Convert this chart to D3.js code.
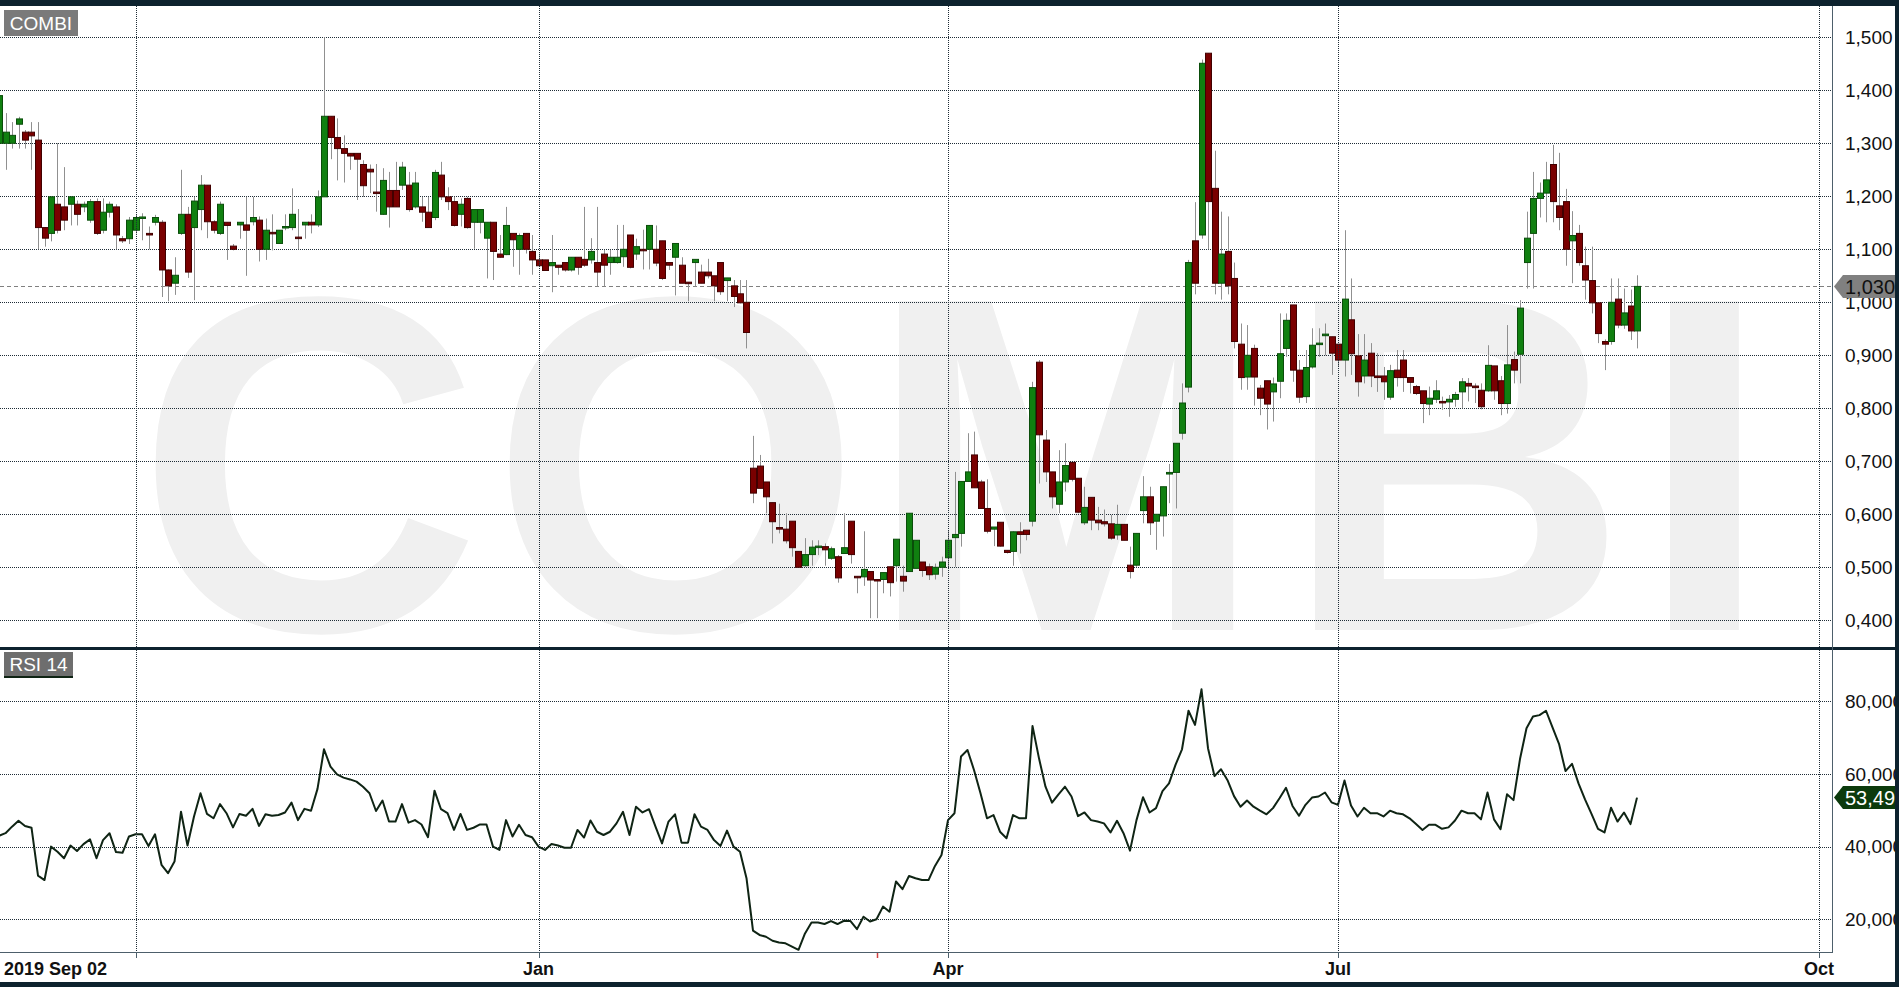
<!DOCTYPE html>
<html><head><meta charset="utf-8">
<script src="https://cdn.jsdelivr.net/npm/d3@7"></script>
<style>
html,body{margin:0;padding:0;background:#fff;overflow:hidden}
svg{display:block}
text{font-family:"Liberation Sans",Arial,Helvetica,sans-serif}
</style>
</head><body>
<svg id="c" width="1899" height="987"></svg>
<script>
// ---------- DATA ----------
const openP=[1.30,1.30,1.30,1.336,1.321,1.321,1.306,1.141,1.130,1.185,
1.18,1.185,1.185,1.18,1.155,1.19,1.136,1.17,1.18,1.12,
1.12,1.136,1.16,1.13,1.151,1.151,1.061,1.036,1.13,1.166,
1.141,1.175,1.221,1.152,1.13,1.151,1.106,1.146,1.146,1.152,
1.155,1.1,1.132,1.111,1.141,1.141,1.123,1.146,1.151,1.146,
1.199,1.351,1.311,1.29,1.281,1.281,1.26,1.251,1.208,1.166,
1.211,1.211,1.221,1.221,1.18,1.18,1.17,1.16,1.24,1.199,
1.19,1.166,1.196,1.151,1.151,1.121,1.151,1.091,1.09,1.13,
1.1,1.13,1.096,1.08,1.08,1.069,1.07,1.075,1.061,1.085,
1.081,1.08,1.075,1.091,1.075,1.075,1.086,1.127,1.091,1.1,
1.1,1.1,1.116,1.075,1.085,1.07,1.038,1.075,1.057,1.057,
1.05,1.075,1.041,1.031,1.016,1.0,0.687,0.691,0.661,0.622,
0.575,0.572,0.587,0.53,0.503,0.524,0.538,0.539,0.517,0.52,
0.526,0.587,0.483,0.482,0.492,0.477,0.477,0.501,0.503,0.483,
0.492,0.498,0.51,0.501,0.487,0.50,0.518,0.556,0.564,0.662,
0.712,0.661,0.611,0.572,0.585,0.532,0.53,0.567,0.57,0.587,
0.887,0.74,0.68,0.619,0.661,0.698,0.668,0.584,0.632,0.589,
0.586,0.582,0.561,0.581,0.504,0.504,0.607,0.633,0.587,0.597,
0.676,0.679,0.753,0.84,1.116,1.127,1.47,1.215,1.036,1.096,
1.045,0.921,0.859,0.913,0.838,0.852,0.831,0.851,0.913,0.995,
0.872,0.822,0.878,0.921,0.937,0.935,0.921,0.891,0.967,0.899,
0.861,0.904,0.861,0.861,0.821,0.872,0.891,0.858,0.841,0.833,
0.808,0.817,0.813,0.812,0.817,0.831,0.847,0.842,0.834,0.833,
0.88,0.852,0.809,0.892,0.902,1.075,1.13,1.196,1.206,1.26,
1.182,1.19,1.116,1.13,1.069,1.041,0.999,0.926,0.926,1.006,
0.957,0.993,0.946];
const highP=[1.40,1.357,1.34,1.35,1.325,1.34,1.34,1.142,1.199,1.30,
1.255,1.199,1.192,1.19,1.195,1.196,1.196,1.19,1.185,1.125,
1.161,1.165,1.168,1.143,1.165,1.155,1.062,1.085,1.25,1.18,
1.199,1.24,1.221,1.155,1.19,1.151,1.11,1.151,1.199,1.199,
1.162,1.158,1.166,1.136,1.166,1.215,1.176,1.151,1.166,1.211,
1.50,1.351,1.347,1.315,1.281,1.281,1.268,1.26,1.261,1.253,
1.246,1.265,1.265,1.246,1.246,1.199,1.199,1.25,1.265,1.217,
1.199,1.196,1.199,1.175,1.175,1.151,1.151,1.127,1.18,1.13,
1.13,1.13,1.127,1.092,1.08,1.127,1.07,1.075,1.085,1.085,
1.18,1.121,1.18,1.099,1.099,1.146,1.146,1.127,1.12,1.137,
1.145,1.145,1.116,1.075,1.111,1.085,1.038,1.081,1.071,1.082,
1.05,1.075,1.046,1.042,1.042,1.042,0.748,0.712,0.661,0.622,
0.62,0.602,0.587,0.53,0.555,0.551,0.551,0.545,0.539,0.523,
0.602,0.587,0.483,0.568,0.492,0.477,0.49,0.501,0.553,0.503,
0.602,0.551,0.51,0.507,0.507,0.52,0.57,0.68,0.662,0.753,
0.756,0.665,0.666,0.576,0.585,0.532,0.568,0.585,0.57,0.85,
0.891,0.759,0.68,0.721,0.734,0.698,0.668,0.652,0.632,0.614,
0.609,0.599,0.618,0.581,0.539,0.564,0.672,0.652,0.60,0.652,
0.695,0.734,0.847,1.08,1.189,1.458,1.47,1.286,1.171,1.162,
1.075,0.96,0.957,0.92,0.844,0.852,0.858,0.979,0.979,0.995,
0.891,0.91,0.951,0.951,0.96,0.935,0.921,1.136,1.045,0.94,
0.94,0.923,0.904,0.878,0.882,0.91,0.91,0.858,0.844,0.833,
0.841,0.853,0.822,0.825,0.831,0.857,0.857,0.847,0.847,0.919,
0.88,0.861,0.957,0.907,1.004,1.171,1.246,1.226,1.265,1.297,
1.282,1.214,1.172,1.146,1.105,1.105,1.0,0.93,1.045,1.045,
1.026,1.024,1.051];
const lowP=[1.25,1.25,1.29,1.29,1.29,1.25,1.10,1.105,1.115,1.13,
1.136,1.145,1.145,1.17,1.15,1.127,1.13,1.16,1.10,1.112,
1.11,1.13,1.117,1.10,1.145,1.01,1.002,1.014,1.127,1.046,
1.004,1.136,1.121,1.13,1.127,1.08,1.098,1.12,1.05,1.145,
1.077,1.08,1.098,1.111,1.136,1.136,1.10,1.12,1.13,1.142,
1.199,1.27,1.23,1.226,1.25,1.193,1.199,1.206,1.171,1.165,
1.141,1.18,1.212,1.171,1.177,1.152,1.141,1.155,1.193,1.174,
1.143,1.143,1.139,1.101,1.13,1.045,1.042,1.084,1.089,1.067,
1.052,1.092,1.052,1.067,1.06,1.019,1.052,1.058,1.058,1.052,
1.067,1.073,1.03,1.03,1.052,1.073,1.067,1.064,1.08,1.062,
1.062,1.068,1.042,1.061,1.013,1.036,1.002,1.03,1.036,1.045,
1.002,1.014,1.002,0.991,0.998,0.913,0.621,0.649,0.602,0.545,
0.564,0.545,0.52,0.50,0.501,0.503,0.523,0.503,0.514,0.471,
0.526,0.507,0.451,0.465,0.404,0.404,0.451,0.445,0.473,0.454,
0.492,0.498,0.482,0.476,0.477,0.482,0.501,0.501,0.539,0.662,
0.65,0.611,0.564,0.54,0.539,0.526,0.503,0.526,0.551,0.577,
0.658,0.661,0.611,0.602,0.643,0.662,0.602,0.58,0.57,0.57,
0.577,0.552,0.552,0.551,0.479,0.501,0.583,0.561,0.533,0.558,
0.621,0.611,0.741,0.83,1.015,1.12,1.10,1.015,1.005,1.015,
0.913,0.835,0.835,0.805,0.787,0.76,0.775,0.819,0.897,0.85,
0.81,0.81,0.875,0.897,0.90,0.863,0.878,0.86,0.863,0.822,
0.847,0.84,0.831,0.816,0.816,0.841,0.831,0.828,0.825,0.772,
0.787,0.81,0.797,0.784,0.803,0.8,0.813,0.81,0.798,0.831,
0.816,0.787,0.79,0.847,0.847,1.026,1.026,1.16,1.151,1.151,
1.136,1.069,1.036,1.069,1.005,0.979,0.923,0.872,0.92,0.951,
0.95,0.929,0.913];
const closeP=[1.39,1.321,1.315,1.346,1.306,1.314,1.141,1.121,1.199,1.136,
1.155,1.199,1.166,1.185,1.19,1.13,1.17,1.185,1.127,1.116,
1.155,1.16,1.161,1.127,1.16,1.061,1.031,1.051,1.166,1.057,
1.191,1.221,1.152,1.136,1.185,1.145,1.1,1.151,1.136,1.16,
1.1,1.136,1.13,1.136,1.143,1.166,1.121,1.151,1.146,1.199,
1.351,1.311,1.29,1.281,1.276,1.27,1.22,1.246,1.206,1.23,
1.18,1.18,1.255,1.175,1.225,1.17,1.141,1.245,1.199,1.19,
1.145,1.185,1.141,1.175,1.175,1.151,1.096,1.085,1.145,1.118,
1.126,1.1,1.08,1.069,1.06,1.075,1.066,1.061,1.085,1.066,
1.07,1.096,1.057,1.07,1.085,1.085,1.1,1.066,1.105,1.098,
1.145,1.074,1.045,1.07,1.111,1.036,1.036,1.081,1.036,1.05,
1.031,1.02,1.046,1.011,0.999,0.943,0.640,0.649,0.633,0.586,
0.572,0.55,0.537,0.50,0.524,0.538,0.540,0.533,0.535,0.48,
0.537,0.524,0.481,0.496,0.476,0.475,0.49,0.471,0.553,0.474,
0.602,0.551,0.494,0.486,0.50,0.51,0.551,0.562,0.662,0.68,
0.65,0.611,0.568,0.576,0.54,0.528,0.567,0.562,0.562,0.839,
0.75,0.68,0.633,0.661,0.692,0.666,0.604,0.613,0.589,0.584,
0.582,0.555,0.581,0.551,0.492,0.564,0.633,0.584,0.60,0.652,
0.679,0.734,0.81,1.075,1.036,1.451,1.19,1.036,1.091,1.031,
0.926,0.858,0.9,0.859,0.819,0.808,0.846,0.903,0.966,0.872,
0.821,0.877,0.919,0.923,0.94,0.904,0.891,1.006,0.903,0.85,
0.891,0.861,0.858,0.85,0.871,0.858,0.858,0.849,0.828,0.809,
0.819,0.833,0.812,0.817,0.826,0.85,0.842,0.839,0.803,0.881,
0.833,0.809,0.882,0.872,0.989,1.121,1.196,1.206,1.231,1.19,
1.16,1.1,1.126,1.075,1.042,0.999,0.941,0.921,1.0,0.957,
0.98,0.946,1.03];
const rsiValues=[43.0,43.7,45.5,47.1,45.7,45.2,32.0,30.8,40.0,38.6,
36.8,40.3,38.8,40.7,42.0,36.8,41.8,43.7,38.5,38.3,
42.8,43.4,43.4,40.2,43.4,35.0,32.7,35.9,49.6,40.3,
48.3,54.7,49.0,47.8,51.7,49.2,45.3,49.0,48.5,50.4,
45.7,48.9,48.5,48.7,49.4,52.1,47.3,50.4,49.9,55.9,
66.8,62.0,59.9,59.0,58.5,57.9,56.5,54.7,49.8,52.7,
46.9,46.9,51.7,46.6,47.3,46.1,42.6,55.4,50.3,49.2,
44.6,49.0,44.6,45.2,46.1,46.1,40.0,39.1,47.3,42.8,
46.0,43.2,42.6,40.0,39.1,40.7,40.3,39.7,39.7,44.6,
42.5,47.2,44.1,43.2,44.1,46.4,49.6,43.2,51.0,49.4,
50.3,45.5,40.9,46.9,48.9,41.1,41.1,48.9,45.5,44.6,
41.8,40.2,44.4,40.0,38.6,31.3,16.9,15.7,15.2,14.1,
13.6,13.4,12.5,11.6,16.1,19.1,19.1,18.7,19.5,18.7,
19.6,19.5,17.3,20.7,19.4,20.0,23.5,22.1,30.4,28.3,
31.9,31.3,30.8,30.8,34.7,37.7,47.3,49.2,64.8,66.6,
61.1,54.7,47.8,48.7,44.1,42.3,48.7,47.8,47.8,73.2,
64.3,56.5,52.1,54.4,56.5,53.8,48.4,49.4,47.3,46.9,
46.4,43.9,47.1,43.7,38.9,47.3,53.6,49.4,50.6,55.3,
57.4,62.5,66.8,77.4,73.5,83.3,67.1,59.4,61.3,58.3,
53.9,51.0,52.7,51.0,49.9,48.9,50.6,53.3,56.2,51.2,
48.5,51.5,53.5,53.8,54.9,52.2,51.5,58.2,51.3,48.3,
50.7,49.2,49.2,48.3,49.9,49.2,48.9,47.8,46.2,44.6,
46.0,46.0,44.9,45.3,47.2,49.9,49.2,49.2,47.5,54.9,
47.5,44.8,54.4,52.8,64.1,72.6,75.8,76.2,77.4,72.8,
68.3,60.8,62.8,57.4,53.0,49.0,44.9,43.9,50.7,46.9,
49.4,46.2,53.49];
const priceTicks=[0.4,0.5,0.6,0.7,0.8,0.9,1.0,1.1,1.2,1.3,1.4,1.5];
const rsiTicks=[20,40,60,80];
const dateTickIdx=[21,83,146,206,280];
const dateTickLabels=["","Jan","Apr","Jul","Oct"];
const firstDateLabel="2019 Sep 02";
const lastPrice=1.030;
const lastRsi=53.49;
const markerIdx=135;
const priceTitle="COMBI";
const rsiTitle="RSI 14";

// ---------- LAYOUT ----------
const W=1899,H=987;
const plotR=1832, pTop=6, pBot=647, rTop=650, rBot=952;
const svg=d3.select("#c");
const loc=d3.formatLocale({decimal:",",thousands:".",grouping:[3],currency:["",""]});
const f3=loc.format(".3f"), f2=loc.format(".2f");

const x=d3.scaleLinear().domain([0,252]).range([-1,1637]);
const y=d3.scaleLinear().domain([0.4,1.5]).range([620.3,37.3]);
const yr=d3.scaleLinear().domain([20,80]).range([919.3,701.3]);

const dark="#0d222e", grid="#1e2c36";

svg.append("rect").attr("width",W).attr("height",H).attr("fill","#fff");
const defs=svg.append("defs");
defs.append("clipPath").attr("id","cp").append("rect").attr("x",0).attr("y",pTop).attr("width",plotR).attr("height",pBot-pTop);
defs.append("clipPath").attr("id","cr").append("rect").attr("x",0).attr("y",rTop).attr("width",plotR).attr("height",rBot-rTop);

// watermark (letters placed individually)
svg.append("g").attr("clip-path","url(#cp)").append("text")
  .attr("x","136 490 867 1283 1638").attr("y",630)
  .attr("font-size",478).attr("font-weight","bold")
  .attr("fill","#f0f0f0").text(priceTitle);

// grids
const gP=svg.append("g").attr("clip-path","url(#cp)");
gP.selectAll("line.h").data(priceTicks).join("line")
  .attr("x1",0).attr("x2",plotR)
  .attr("y1",d=>Math.round(y(d))+0.5).attr("y2",d=>Math.round(y(d))+0.5)
  .attr("stroke",grid).attr("stroke-dasharray","1,1");
const gR=svg.append("g").attr("clip-path","url(#cr)");
gR.selectAll("line.h").data(rsiTicks).join("line")
  .attr("x1",0).attr("x2",plotR)
  .attr("y1",d=>Math.round(yr(d))+0.5).attr("y2",d=>Math.round(yr(d))+0.5)
  .attr("stroke",grid).attr("stroke-dasharray","1,1");
svg.append("g").selectAll("line").data(dateTickIdx).join("line")
  .attr("x1",d=>Math.round(x(d))+0.5).attr("x2",d=>Math.round(x(d))+0.5)
  .attr("y1",pTop).attr("y2",rBot)
  .attr("stroke",grid).attr("stroke-dasharray","1,1");

// last price dashed line
gP.append("line").attr("x1",0).attr("x2",plotR)
  .attr("y1",Math.round(y(lastPrice))+0.5).attr("y2",Math.round(y(lastPrice))+0.5)
  .attr("stroke","#808080").attr("stroke-dasharray","4,3");

// candles
const idx=d3.range(openP.length);
const cg=gP.append("g");
cg.selectAll("line.w").data(idx).join("line")
  .attr("x1",i=>Math.round(x(i))+0.5).attr("x2",i=>Math.round(x(i))+0.5)
  .attr("y1",i=>y(Math.max(highP[i],openP[i],closeP[i])))
  .attr("y2",i=>y(Math.min(lowP[i],openP[i],closeP[i])))
  .attr("stroke","#909090").attr("stroke-width",1);
cg.selectAll("rect.b").data(idx).join("rect")
  .attr("x",i=>Math.round(x(i))-2.5).attr("width",6)
  .attr("y",i=>y(Math.max(openP[i],closeP[i])))
  .attr("height",i=>Math.max(1.5,Math.abs(y(openP[i])-y(closeP[i]))))
  .attr("fill",i=>closeP[i]>=openP[i]?"#108010":"#7a0000")
  .attr("stroke",i=>closeP[i]>=openP[i]?"#0a4d0a":"#420000")
  .attr("stroke-width",1);

// RSI line
gR.append("path").datum(idx)
  .attr("d",d3.line().x(i=>x(i)).y(i=>yr(rsiValues[i])))
  .attr("fill","none").attr("stroke","#0f2414").attr("stroke-width",2).attr("stroke-linejoin","round");

// panel frames
svg.append("rect").attr("x",0).attr("y",0).attr("width",W).attr("height",6).attr("fill",dark);
svg.append("rect").attr("x",0).attr("y",647).attr("width",W).attr("height",3).attr("fill",dark);
svg.append("line").attr("x1",0).attr("x2",plotR+0.5).attr("y1",rBot+0.5).attr("y2",rBot+0.5).attr("stroke","#4d5f6b");
svg.append("line").attr("x1",plotR+0.5).attr("x2",plotR+0.5).attr("y1",pTop).attr("y2",rBot+1).attr("stroke","#4d5f6b");

// date ticks
svg.append("g").selectAll("line").data(dateTickIdx).join("line")
  .attr("x1",d=>Math.round(x(d))+0.5).attr("x2",d=>Math.round(x(d))+0.5)
  .attr("y1",rBot).attr("y2",rBot+6).attr("stroke","#4d5f6b");
svg.append("line").attr("x1",Math.round(x(markerIdx))+0.5).attr("x2",Math.round(x(markerIdx))+0.5)
  .attr("y1",rBot+1).attr("y2",rBot+6).attr("stroke","#d04040").attr("stroke-width",1.5);
svg.append("g").selectAll("text").data(dateTickIdx.filter((d,i)=>dateTickLabels[i])).join("text")
  .attr("x",d=>x(d)).attr("y",975).attr("text-anchor","middle")
  .attr("font-size",18).attr("font-weight","bold").attr("fill","#111")
  .text(d=>dateTickLabels[dateTickIdx.indexOf(d)]);
svg.append("text").attr("x",4).attr("y",975).attr("font-size",18).attr("font-weight","bold").attr("fill","#111").text(firstDateLabel);

// axis labels
svg.append("g").selectAll("text").data(priceTicks).join("text")
  .attr("x",1845).attr("y",d=>y(d)).attr("dy","0.36em")
  .attr("font-size",19).attr("fill","#111").text(d=>f3(d));
svg.append("g").selectAll("text").data(rsiTicks).join("text")
  .attr("x",1845).attr("y",d=>yr(d)).attr("dy","0.36em")
  .attr("font-size",19).attr("fill","#111").text(d=>f3(d));

// tags
function tag(yc,fill,txtColor,txt){
  const t=yc-11.5,b=yc+11.5;
  svg.append("path").attr("d",`M1834,${yc} L1843,${t} L1899,${t} L1899,${b} L1843,${b} Z`).attr("fill",fill);
  svg.append("text").attr("x",1845).attr("y",yc).attr("dy","0.36em").attr("font-size",20).attr("fill",txtColor).text(txt);
}
tag(y(lastPrice),"#808080","#111",f3(lastPrice));
tag(yr(lastRsi),"#0c3a0c","#fff",f2(lastRsi));

// panel titles
svg.append("rect").attr("x",4).attr("y",10).attr("width",74).attr("height",26).attr("fill","#7a7a7a");
svg.append("text").attr("x",41).attr("y",23).attr("dy","0.36em").attr("text-anchor","middle").attr("font-size",19).attr("fill","#fff").text(priceTitle);
svg.append("rect").attr("x",4).attr("y",652).attr("width",69).attr("height",26).attr("fill","#6e6e6e");
svg.append("rect").attr("x",4).attr("y",676).attr("width",69).attr("height",2).attr("fill","#0f2414");
svg.append("text").attr("x",38.5).attr("y",664).attr("dy","0.36em").attr("text-anchor","middle").attr("font-size",19).attr("fill","#fff").text(rsiTitle);

// outer borders
svg.append("rect").attr("x",1895).attr("y",0).attr("width",4).attr("height",H).attr("fill",dark);
svg.append("rect").attr("x",0).attr("y",982).attr("width",W).attr("height",5).attr("fill",dark);
</script>
</body></html>
